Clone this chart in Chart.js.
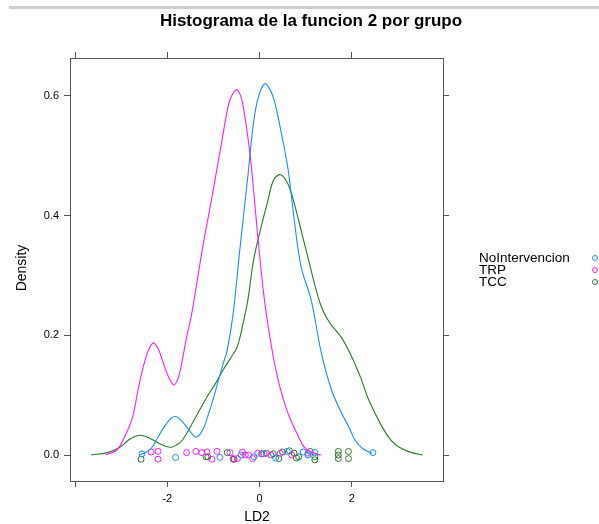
<!DOCTYPE html>
<html>
<head>
<meta charset="utf-8">
<script src="https://cdn.jsdelivr.net/npm/chart.js@4/dist/chart.umd.min.js"></script>
<style>
  html, body { margin: 0; padding: 0; background: #fff; }
  #wrap { width: 599px; height: 524px; }
</style>
</head>
<body>
<div id="wrap"><canvas id="chart" width="599" height="524"></canvas></div>
<script>
// groups and colours (lattice superpose defaults)
var groups = ['NoIntervencion', 'TRP', 'TCC'];
var colors = ['#1a8cff', '#ff1aff', '#2a7a2a'];

// density curves
var noIntX = [-2.6, -2.45, -2.33, -2.2, -2.11, -1.91, -1.8, -1.7, -1.58, -1.45, -1.36, -1.23, -1.1, -1.01, -0.9, -0.79, -0.7, -0.57, -0.42, -0.26, -0.13, -0.02, 0.11, 0.2, 0.31, 0.46, 0.62, 0.75, 0.9, 1.12, 1.34, 1.56, 1.78, 1.95, 2.07, 2.25, 2.44];
var noIntY = [0.0, 0.005, 0.013, 0.03, 0.042, 0.062, 0.064, 0.058, 0.047, 0.034, 0.03, 0.042, 0.07, 0.092, 0.122, 0.152, 0.175, 0.237, 0.348, 0.46, 0.555, 0.599, 0.620, 0.614, 0.595, 0.543, 0.477, 0.395, 0.315, 0.259, 0.171, 0.109, 0.07, 0.045, 0.025, 0.01, 0.003];

var trpX = [-3.34, -3.1, -2.99, -2.77, -2.62, -2.46, -2.31, -2.2, -2.11, -1.97, -1.85, -1.74, -1.58, -1.47, -1.23, -1.03, -0.81, -0.66, -0.55, -0.48, -0.37, -0.2, -0.05, 0.09, 0.24, 0.39, 0.55, 0.68, 0.85, 0.97, 1.15, 1.34];
var trpY = [0.0, 0.008, 0.02, 0.059, 0.114, 0.164, 0.187, 0.178, 0.159, 0.13, 0.117, 0.135, 0.197, 0.236, 0.348, 0.431, 0.527, 0.589, 0.607, 0.61, 0.589, 0.498, 0.376, 0.27, 0.19, 0.13, 0.085, 0.058, 0.03, 0.013, 0.004, 0.0];

var tccX = [-3.65, -3.3, -3.05, -2.84, -2.7, -2.57, -2.4, -2.24, -2.05, -1.91, -1.8, -1.67, -1.45, -1.3, -1.14, -0.95, -0.79, -0.6, -0.48, -0.35, -0.25, -0.13, 0.02, 0.17, 0.31, 0.46, 0.62, 0.75, 0.9, 1.08, 1.22, 1.34, 1.45, 1.56, 1.78, 2.0, 2.2, 2.37, 2.66, 2.85, 3.03, 3.3, 3.54];
var tccY = [0.0, 0.004, 0.012, 0.025, 0.031, 0.033, 0.029, 0.022, 0.015, 0.013, 0.017, 0.025, 0.054, 0.075, 0.097, 0.12, 0.142, 0.165, 0.181, 0.222, 0.26, 0.325, 0.376, 0.421, 0.46, 0.468, 0.452, 0.421, 0.376, 0.321, 0.278, 0.248, 0.23, 0.217, 0.196, 0.164, 0.128, 0.092, 0.047, 0.025, 0.013, 0.004, 0.0];

// rug points (x value, small vertical jitter)
var noIntRugX = [-2.55, -1.82, -0.86, -0.4, -0.12, 0.05, 0.35, 0.6, 0.95, 1.05, 1.2, 2.46];
var noIntRugY = [0.002, -0.004, -0.004, 0.0, -0.003, 0.002, -0.005, 0.006, 0.005, 0.0, 0.004, 0.004];
var trpRugX = [-2.35, -2.2, -2.2, -1.58, -1.38, -1.25, -1.14, -1.03, -0.92, -0.64, -0.57, -0.48, -0.37, -0.31, -0.24, -0.15, -0.04, 0.1, 0.25, 0.45, 0.7, 1.05];
var trpRugY = [0.005, 0.006, -0.007, 0.004, 0.006, 0.004, 0.005, -0.007, 0.006, 0.004, -0.006, -0.006, 0.005, 0.0, 0.0, -0.006, 0.003, 0.002, 0.0, 0.003, 0.0, 0.003];
var tccRugX = [-2.57, -1.16, -1.12, -0.7, -0.57, -0.55, 0.05, 0.15, 0.3, 0.42, 0.5, 0.65, 0.75, 0.8, 0.85, 1.1, 1.2, 1.2, 1.71, 1.71, 1.71, 1.93, 1.93];
var tccRugY = [-0.007, -0.003, -0.003, 0.004, -0.007, -0.007, 0.002, 0.003, 0.002, -0.006, 0.005, 0.007, 0.003, -0.005, -0.003, 0.006, -0.003, -0.008, 0.006, 0.0, -0.006, 0.006, -0.006];

// axis ticks
var xTicks = [-4, -2, 0, 2];
var yTicks = [0, 0.2, 0.4, 0.6];

function pts(xs, ys) {
  return xs.map(function(x, i){ return {x: x, y: ys[i]}; });
}

var curves = [[noIntX, noIntY], [trpX, trpY], [tccX, tccY]];
var rugs = [[noIntRugX, noIntRugY], [trpRugX, trpRugY], [tccRugX, tccRugY]];

var datasets = [];
curves.forEach(function(c, i){
  datasets.push({
    label: groups[i],
    data: pts(c[0], c[1]),
    showLine: true,
    borderColor: colors[i],
    borderWidth: 1.1,
    pointRadius: 0,
    tension: 0.35,
    fill: false
  });
});
rugs.forEach(function(r, i){
  datasets.push({
    label: groups[i] + ' rug',
    data: pts(r[0], r[1]),
    showLine: false,
    pointStyle: 'circle',
    pointRadius: 3,
    pointBorderWidth: 1,
    pointBorderColor: colors[i],
    pointBackgroundColor: 'rgba(0,0,0,0)'
  });
});

var axisColor = '#555';
var tickFont = {family: 'Liberation Sans', size: 11};

function axis(pos, min, max, ticks, fmt, fitSize) {
  return {
    type: 'linear',
    position: pos,
    min: min,
    max: max,
    afterBuildTicks: function(s){ s.ticks = ticks.map(function(v){ return {value: v}; }); },
    afterFit: function(s){
      if (pos === 'left' || pos === 'right') s.width = fitSize; else s.height = fitSize;
    },
    ticks: {
      display: fmt !== null,
      callback: fmt || function(){ return ''; },
      font: tickFont,
      color: '#000',
      padding: 5,
      maxRotation: 0,
      autoSkip: false
    },
    grid: {drawOnChartArea: false, drawTicks: true, tickLength: 6, tickColor: axisColor, lineWidth: 1},
    border: {display: true, color: axisColor, width: 1}
  };
}

var textPlugin = {
  id: 'texts',
  afterDraw: function(chart){
    var ctx = chart.ctx;
    ctx.save();
    // grey strip on top
    ctx.fillStyle = '#cfcfcf';
    ctx.fillRect(9, 6, 590, 3);
    ctx.fillStyle = '#000';
    ctx.textAlign = 'center';
    ctx.textBaseline = 'middle';
    ctx.font = 'bold 17px "Liberation Sans"';
    ctx.fillText('Histograma de la funcion 2 por grupo', 311, 21);
    ctx.font = '14px "Liberation Sans"';
    ctx.fillText('LD2', 257, 517);
    ctx.save();
    ctx.translate(22, 268);
    ctx.rotate(-Math.PI / 2);
    ctx.fillText('Density', 0, 0);
    ctx.restore();
    // legend
    ctx.textAlign = 'left';
    ctx.font = '13.5px "Liberation Sans"';
    groups.forEach(function(g, i){
      var y = 258 + i * 12;
      ctx.fillStyle = '#000';
      ctx.fillText(g, 479, y);
      ctx.beginPath();
      ctx.arc(595, y, 2.5, 0, Math.PI * 2);
      ctx.strokeStyle = colors[i];
      ctx.lineWidth = 1;
      ctx.stroke();
    });
    ctx.restore();
  }
};

new Chart(document.getElementById('chart'), {
  type: 'scatter',
  data: {datasets: datasets},
  options: {
    responsive: false,
    animation: false,
    devicePixelRatio: 1,
    layout: {padding: 0},
    plugins: {legend: {display: false}, tooltip: {enabled: false}, title: {display: false}},
    scales: {
      x: axis('bottom', -4.11, 3.98, xTicks, function(v){ return v === -4 ? '' : String(v); }, 43),
      x2: axis('top', -4.11, 3.98, xTicks, null, 58),
      y: axis('left', -0.0434, 0.663, yTicks, function(v){ return v.toFixed(1); }, 70),
      y2: axis('right', -0.0434, 0.663, yTicks, null, 156)
    }
  },
  plugins: [textPlugin]
});
</script>
</body>
</html>
